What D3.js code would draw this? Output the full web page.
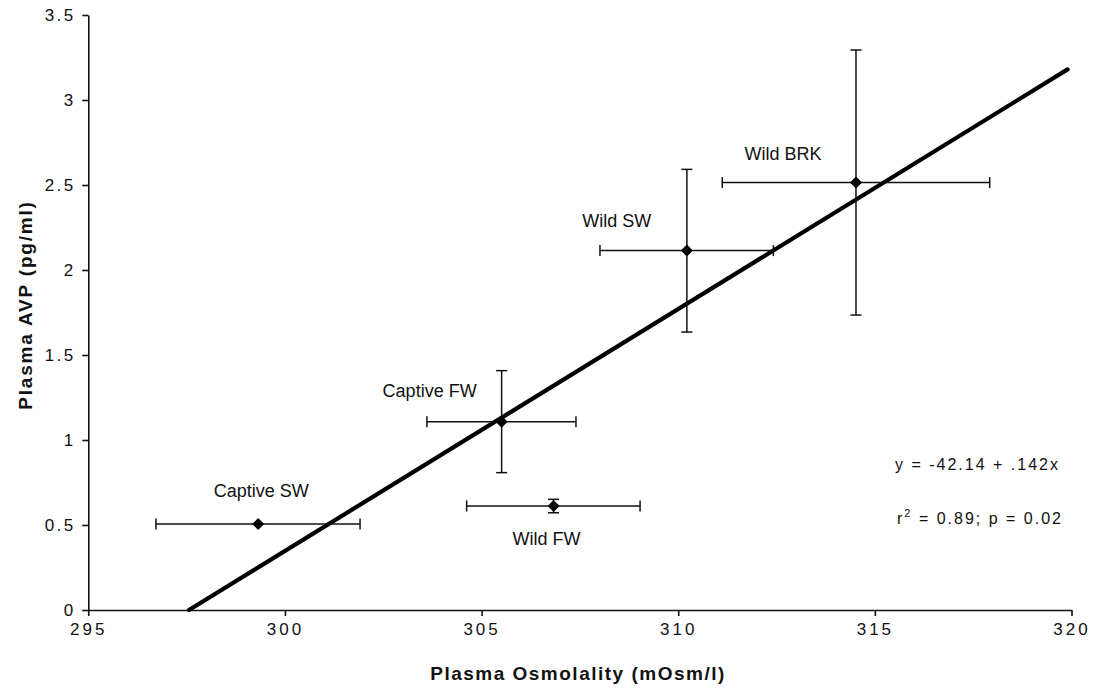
<!DOCTYPE html>
<html>
<head>
<meta charset="utf-8">
<script src="https://cdn.jsdelivr.net/npm/d3@7"></script>
<style>
  body { margin: 0; background: #fff; }
  svg { display: block; font-family: "Liberation Sans", Arial, sans-serif; }
</style>
</head>
<body>
<div id="chart"></div>
<script>
// data
var groups     = ["Captive SW", "Captive FW", "Wild FW", "Wild SW", "Wild BRK"];
var osmolality = [299.32, 305.51, 306.83, 310.22, 314.52];
var osmLow     = [296.72, 303.61, 304.62, 308.01, 311.12];
var osmHigh    = [301.91, 307.40, 309.03, 312.42, 317.92];
var avp        = [0.506, 1.108, 0.612, 2.114, 2.514];
var avpLow     = [0.506, 0.808, 0.572, 1.635, 1.735];
var avpHigh    = [0.506, 1.408, 0.651, 2.592, 3.294];

// regression line end points
var fitX = [297.56, 319.9];
var fitY = [0, 3.18];

var xTicks = [295, 300, 305, 310, 315, 320];
var yTicks = [0, 0.5, 1, 1.5, 2, 2.5, 3, 3.5];

// label offsets from each point, in pixels
var labelDx = [3, -72, -7, -70, -73];
var labelDy = [-27, -25, 39, -24, -23];

var W = 1095, H = 689;
var margin = {top: 15, right: 23.5, bottom: 79, left: 88.3};

var svg = d3.select("#chart")
    .append("svg")
    .attr("width", W)
    .attr("height", H);

var x = d3.scaleLinear().domain([295, 320]).range([margin.left, W - margin.right]);
var y = d3.scaleLinear().domain([0, 3.5]).range([H - margin.bottom, margin.top]);

var data = groups.map(function(g, i) {
  return {name: g, x: osmolality[i], y: avp[i], x0: osmLow[i], x1: osmHigh[i],
          y0: avpLow[i], y1: avpHigh[i], dx: labelDx[i], dy: labelDy[i]};
});

// axes
var xAxis = svg.append("g")
    .attr("transform", "translate(0," + y(0) + ")")
    .call(d3.axisBottom(x).tickValues(xTicks).tickFormat(function(d) { return d; })
      .tickSize(6).tickSizeOuter(0).tickPadding(7));
var yAxis = svg.append("g")
    .attr("transform", "translate(" + x(295) + ",0)")
    .call(d3.axisLeft(y).tickValues(yTicks).tickFormat(function(d) { return d; })
      .tickSize(6).tickSizeOuter(0).tickPadding(6.5));

[xAxis, yAxis].forEach(function(a) {
  a.select(".domain").attr("stroke", "#111").attr("stroke-width", 1.6);
  a.selectAll(".tick line").attr("stroke", "#111").attr("stroke-width", 1.6);
  a.selectAll(".tick text").attr("fill", "#111").style("font-size", "17px");
});
xAxis.selectAll(".tick text").style("letter-spacing", "3px");
yAxis.selectAll(".tick text").style("letter-spacing", "2.5px");

// axis titles
svg.append("text")
    .attr("x", 578).attr("y", 680)
    .attr("text-anchor", "middle")
    .style("font-size", "19px").style("font-weight", "bold").style("letter-spacing", "1.5px")
    .attr("fill", "#111")
    .text("Plasma Osmolality (mOsm/l)");
svg.append("text")
    .attr("transform", "translate(32,305) rotate(-90)")
    .attr("text-anchor", "middle")
    .style("font-size", "19px").style("font-weight", "bold").style("letter-spacing", "1.8px")
    .attr("fill", "#111")
    .text("Plasma AVP (pg/ml)");

// regression line
svg.append("path")
    .datum(fitX.map(function(d, i) { return [d, fitY[i]]; }))
    .attr("fill", "none")
    .attr("stroke", "#000")
    .attr("stroke-width", 4.2)
    .attr("stroke-linecap", "round")
    .attr("d", d3.line()
        .x(function(d) { return x(d[0]); })
        .y(function(d) { return y(d[1]); }));

// error bars
var cap = 5.5;
var bars = svg.append("g").attr("stroke", "#111").attr("stroke-width", 1.5).attr("fill", "none");
data.forEach(function(d) {
  var cy = y(d.y), cx = x(d.x);
  bars.append("line").attr("x1", x(d.x0)).attr("x2", x(d.x1)).attr("y1", cy).attr("y2", cy);
  bars.append("line").attr("x1", x(d.x0)).attr("x2", x(d.x0)).attr("y1", cy - cap).attr("y2", cy + cap);
  bars.append("line").attr("x1", x(d.x1)).attr("x2", x(d.x1)).attr("y1", cy - cap).attr("y2", cy + cap);
  if (d.y1 > d.y0) {
    bars.append("line").attr("x1", cx).attr("x2", cx).attr("y1", y(d.y0)).attr("y2", y(d.y1));
    bars.append("line").attr("x1", cx - cap).attr("x2", cx + cap).attr("y1", y(d.y0)).attr("y2", y(d.y0));
    bars.append("line").attr("x1", cx - cap).attr("x2", cx + cap).attr("y1", y(d.y1)).attr("y2", y(d.y1));
  }
});

// diamond markers
svg.selectAll(".pt")
    .data(data)
    .enter().append("path")
    .attr("class", "pt")
    .attr("d", d3.symbol().type(d3.symbolSquare).size(72))
    .attr("transform", function(d) { return "translate(" + x(d.x) + "," + y(d.y) + ") rotate(45)"; })
    .attr("fill", "#000");

// point labels
svg.selectAll(".lbl")
    .data(data)
    .enter().append("text")
    .attr("class", "lbl")
    .attr("x", function(d) { return x(d.x) + d.dx; })
    .attr("y", function(d) { return y(d.y) + d.dy; })
    .attr("text-anchor", "middle")
    .style("font-size", "18px")
    .attr("fill", "#111")
    .text(function(d) { return d.name; });

// regression text
var eq = svg.append("g").attr("fill", "#111")
    .style("font-size", "16px").style("letter-spacing", "2px");
eq.append("text").attr("x", 895).attr("y", 470).text("y = -42.14 + .142x");
var r2 = eq.append("text").attr("x", 897).attr("y", 524);
r2.append("tspan").text("r");
r2.append("tspan").attr("dy", -7).style("font-size", "11px").text("2");
r2.append("tspan").attr("dy", 7).text(" = 0.89; p = 0.02");
</script>
</body>
</html>
